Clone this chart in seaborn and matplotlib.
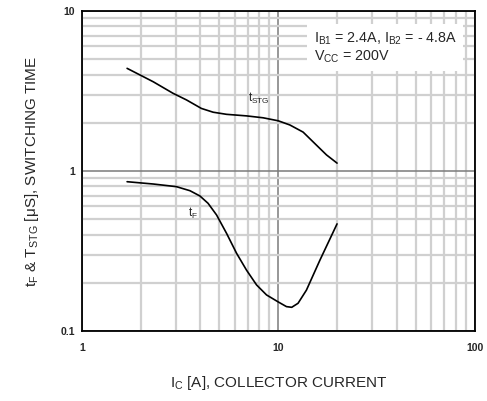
import numpy as np
import pandas as pd
import matplotlib
matplotlib.use("Agg")
import matplotlib.pyplot as plt
import seaborn as sns
from matplotlib.ticker import LogLocator, FixedLocator, NullFormatter

# Data
ic_stg = [1.70, 2.31, 2.91, 3.41, 4.06, 4.66, 5.45, 6.89, 8.37, 9.98, 11.44, 13.37, 15.64, 17.59, 19.9]
t_stg = [4.38, 3.61, 3.06, 2.78, 2.46, 2.33, 2.26, 2.21, 2.15, 2.06, 1.94, 1.75, 1.45, 1.26, 1.12]

ic_f = [1.70, 2.31, 3.03, 3.55, 3.99, 4.39, 4.85, 5.45, 6.13, 6.89, 7.75, 8.71, 9.98, 11.0, 11.7, 12.6, 13.9, 16.3, 19.9]
t_f = [0.857, 0.829, 0.798, 0.753, 0.698, 0.628, 0.531, 0.408, 0.306, 0.240, 0.194, 0.168, 0.152, 0.142, 0.1406, 0.149, 0.180, 0.278, 0.467]

x_ticks = [1, 10, 100]
x_labels = ["1", "10", "100"]
y_ticks = [0.1, 1, 10]
y_labels = ["0.1", "1", "10"]

sns.set_style("white")
plt.rcParams['font.family'] = ['Liberation Sans', 'DejaVu Sans']
plt.rcParams['mathtext.default'] = 'regular'

fig = plt.figure(figsize=(4.87, 4.01), dpi=100)
ax = fig.add_axes([0.168, 0.1746, 0.807, 0.798])

df_stg = pd.DataFrame({"ic": ic_stg, "t": t_stg})
df_f = pd.DataFrame({"ic": ic_f, "t": t_f})
sns.lineplot(data=df_stg, x="ic", y="t", ax=ax, color="black", lw=1.2, sort=False, zorder=5)
sns.lineplot(data=df_f, x="ic", y="t", ax=ax, color="black", lw=1.2, sort=False, zorder=5)
for l in ax.lines:
    l.set_solid_joinstyle("round")

ax.set_xscale("log")
ax.set_yscale("log")
ax.set_xlim(1, 100)
ax.set_ylim(0.1, 10)

ax.xaxis.set_major_locator(FixedLocator(x_ticks))
ax.yaxis.set_major_locator(FixedLocator(y_ticks))
ax.set_xticklabels(x_labels)
ax.set_yticklabels(y_labels)
ax.xaxis.set_minor_locator(LogLocator(base=10, subs=np.arange(2, 10), numticks=20))
ax.yaxis.set_minor_locator(LogLocator(base=10, subs=np.arange(2, 10), numticks=20))
ax.xaxis.set_minor_formatter(NullFormatter())
ax.yaxis.set_minor_formatter(NullFormatter())

ax.grid(which="minor", color="#d0d0d0", lw=1.6, zorder=0)
ax.grid(which="major", color="#7a7a7a", lw=1.1, zorder=0)
ax.set_axisbelow(True)

ax.tick_params(which="both", length=0)
ax.tick_params(axis="x", pad=9, labelsize=7.5)
ax.tick_params(axis="y", pad=5, labelsize=7.5)
for lab in ax.get_xticklabels() + ax.get_yticklabels():
    lab.set_fontweight("bold")

for s in ax.spines.values():
    s.set_color("black")
    s.set_linewidth(1.3)

ax.set_xlabel("I$_{C}$ [A], COLLECTOR CURRENT", fontsize=11, labelpad=15)
ax.set_ylabel("t$_{F}$ & T$_{STG}$ [μS], SWITCHING TIME", fontsize=11, labelpad=14)

ax.text(7.0, 2.69, "t$_{STG}$", fontsize=8.5, ha="left", va="baseline", zorder=6)
ax.text(3.47, 0.518, "t$_{F}$", fontsize=8.5, ha="left", va="baseline", zorder=6)

ax.text(0.59, 0.94, "I$_{B1}$ = 2.4A, I$_{B2}$ = - 4.8A\nV$_{CC}$ = 200V", transform=ax.transAxes,
        fontsize=10.3, ha="left", va="top", linespacing=1.15, zorder=7,
        bbox=dict(boxstyle="square,pad=0.45", fc="white", ec="none"))

fig.savefig("out.png", dpi=100)
